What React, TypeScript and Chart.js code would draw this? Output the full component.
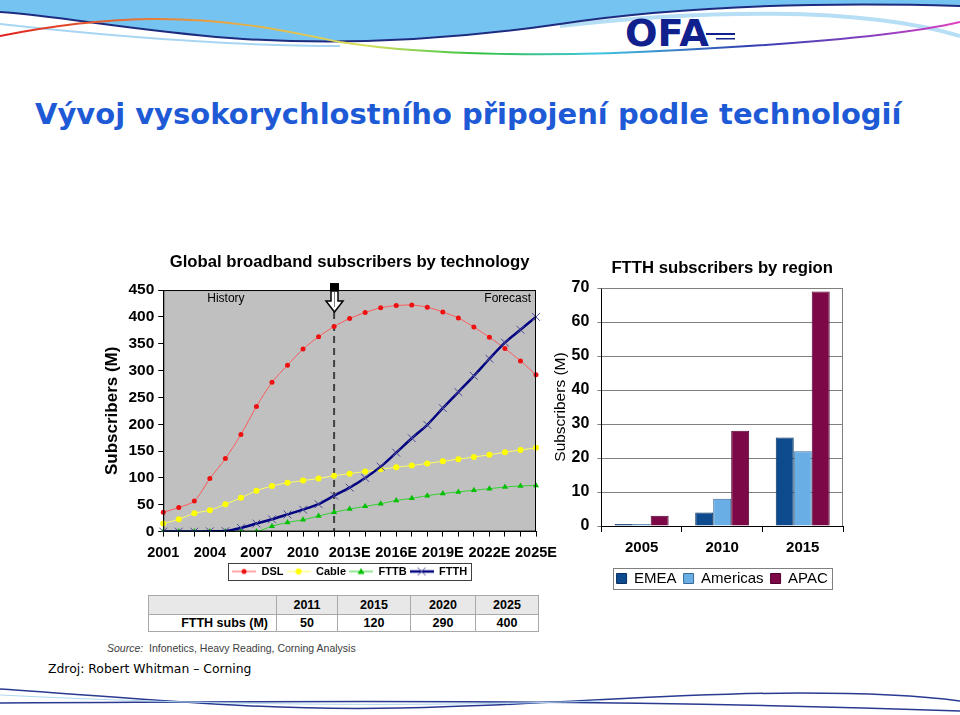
import React, { useEffect, useRef } from 'react';
import { Chart, registerables } from 'chart.js';

Chart.register(...registerables);

// ---------- data ----------
const years = [
  '2001', '2002', '2003', '2004', '2005', '2006', '2007', '2008', '2009', '2010', '2011', '2012',
  '2013E', '2014E', '2015E', '2016E', '2017E', '2018E', '2019E', '2020E', '2021E', '2022E', '2023E', '2024E', '2025E',
];
const dslSubs = [36, 45, 57, 99, 136, 181, 233, 278, 310, 340, 363, 382, 397, 408, 417, 421, 422, 418, 409, 398, 381, 362, 341, 318, 292];
const cableSubs = [15, 23, 34, 40, 51, 63, 76, 85, 91, 95, 99, 104, 108, 112, 116, 120, 123, 127, 131, 135, 139, 143, 148, 152, 156];
const fttbSubs = [0, 0, 0, 0, 0, 0, 0, 10, 17, 22, 29, 36, 42, 47, 52, 58, 62, 67, 71, 74, 77, 80, 83, 85, 86];
const ftthSubs = [0, 0, 0, 0.5, 1, 7, 15, 23, 32, 41, 51, 67, 82, 100, 121, 147, 174, 199, 230, 260, 290, 322, 352, 376, 400];
const historyEndIndex = 11; // 2012

const regionYears = ['2005', '2010', '2015'];
const emeaSubs = [0.6, 4, 26];
const americasSubs = [0.6, 8, 22];
const apacSubs = [3, 28, 69];

const tableYears = ['2011', '2015', '2020', '2025'];
const tableFtth = [50, 120, 290, 400];

// ---------- styles ----------
const ARIAL = '"Liberation Sans", Arial, sans-serif';
const VERDANA = '"DejaVu Sans", Verdana, sans-serif';

function legendIcon(color: string, lineWidth: number, marker: (ctx: CanvasRenderingContext2D, x: number, y: number) => void) {
  const c = document.createElement('canvas');
  c.width = 24;
  c.height = 12;
  const ctx = c.getContext('2d')!;
  ctx.strokeStyle = color;
  ctx.lineWidth = lineWidth;
  ctx.beginPath();
  ctx.moveTo(0, 6);
  ctx.lineTo(24, 6);
  ctx.stroke();
  marker(ctx, 12, 6);
  return c;
}

const leftBg = {
  id: 'leftBg',
  beforeDraw(chart: any) {
    const { ctx, chartArea: a } = chart;
    ctx.save();
    ctx.fillStyle = '#c0c0c0';
    ctx.fillRect(a.left, a.top, a.right - a.left, a.bottom - a.top);
    ctx.restore();
  },
  beforeDatasetsDraw(chart: any) {
    const { ctx, chartArea: a } = chart;
    const x = chart.scales.x.getPixelForValue(historyEndIndex);
    ctx.save();
    ctx.strokeStyle = '#404040';
    ctx.lineWidth = 2;
    ctx.setLineDash([7, 5]);
    ctx.beginPath();
    ctx.moveTo(x, a.top + 22);
    ctx.lineTo(x, a.bottom);
    ctx.stroke();
    ctx.restore();
  },
  afterDatasetsDraw(chart: any) {
    const { ctx, chartArea: a } = chart;
    ctx.save();
    ctx.strokeStyle = '#000';
    ctx.lineWidth = 1;
    ctx.strokeRect(a.left + 0.5, a.top + 0.5, a.right - a.left - 1, a.bottom - a.top - 1);
    ctx.fillStyle = '#000';
    ctx.font = `12px ${ARIAL}`;
    ctx.textBaseline = 'alphabetic';
    ctx.textAlign = 'left';
    ctx.fillText('History', a.left + 44, a.top + 12);
    ctx.textAlign = 'right';
    ctx.fillText('Forecast', a.right - 5, a.top + 12);
    // arrow marking the end of history
    const x = Math.round(chart.scales.x.getPixelForValue(historyEndIndex));
    const t = a.top - 7;
    ctx.fillStyle = '#000';
    ctx.fillRect(x - 4, t, 9, 8);
    ctx.beginPath();
    ctx.moveTo(x - 3, t + 8);
    ctx.lineTo(x + 4, t + 8);
    ctx.lineTo(x + 4, t + 18);
    ctx.lineTo(x + 9, t + 18);
    ctx.lineTo(x + 0.5, t + 29);
    ctx.lineTo(x - 8, t + 18);
    ctx.lineTo(x - 3, t + 18);
    ctx.closePath();
    ctx.fillStyle = '#fff';
    ctx.fill();
    ctx.lineWidth = 1.5;
    ctx.strokeStyle = '#000';
    ctx.stroke();
    ctx.strokeStyle = '#808080';
    ctx.lineWidth = 1;
    ctx.beginPath();
    ctx.moveTo(x + 0.5, t + 9);
    ctx.lineTo(x + 0.5, t + 24);
    ctx.stroke();
    ctx.restore();
  },
};

const legendBox = {
  id: 'legendBox',
  afterDraw(chart: any, _args: any, opts: any) {
    const lg = chart.legend;
    if (!lg || !lg.legendHitBoxes || !lg.legendHitBoxes.length) return;
    const hb = lg.legendHitBoxes;
    let l = Infinity, r = -Infinity, t = Infinity, b = -Infinity;
    hb.forEach((h: any) => {
      l = Math.min(l, h.left);
      r = Math.max(r, h.left + h.width);
      t = Math.min(t, h.top);
      b = Math.max(b, h.top + h.height);
    });
    const px = opts.padX ?? 4;
    const py = opts.padY ?? 3;
    const { ctx } = chart;
    ctx.save();
    ctx.strokeStyle = opts.color || '#000';
    ctx.lineWidth = 1;
    ctx.strokeRect(Math.round(l - px) + 0.5, Math.round(t - py) + 0.5, Math.round(r - l + 2 * px), Math.round(b - t + 2 * py));
    ctx.restore();
  },
};

const rightFrame = {
  id: 'rightFrame',
  afterDraw(chart: any) {
    const { ctx, chartArea: a } = chart;
    ctx.save();
    ctx.strokeStyle = '#808080';
    ctx.lineWidth = 1;
    ctx.beginPath();
    ctx.moveTo(a.left, a.top + 0.5);
    ctx.lineTo(a.right - 0.5, a.top + 0.5);
    ctx.lineTo(a.right - 0.5, a.bottom);
    ctx.stroke();
    ctx.restore();
  },
};

function LeftChart() {
  const ref = useRef<HTMLCanvasElement>(null);
  useEffect(() => {
    const icons = [
      legendIcon('#ff5050', 1, (c, x, y) => { c.fillStyle = '#ee1010'; c.beginPath(); c.arc(x, y, 2.5, 0, Math.PI * 2); c.fill(); }),
      legendIcon('#ffff60', 1, (c, x, y) => { c.fillStyle = '#ffff00'; c.beginPath(); c.arc(x, y, 3, 0, Math.PI * 2); c.fill(); }),
      legendIcon('#30d030', 1, (c, x, y) => { c.fillStyle = '#00c000'; c.beginPath(); c.moveTo(x, y - 3.5); c.lineTo(x + 3.5, y + 2.5); c.lineTo(x - 3.5, y + 2.5); c.closePath(); c.fill(); }),
      legendIcon('#000080', 2.5, (c, x, y) => { c.strokeStyle = '#5050a0'; c.lineWidth = 1; c.beginPath(); c.moveTo(x - 4, y - 4); c.lineTo(x + 4, y + 4); c.moveTo(x + 4, y - 4); c.lineTo(x - 4, y + 4); c.stroke(); }),
    ];
    const names = ['DSL', 'Cable', 'FTTB', 'FTTH'];
    const chart = new Chart(ref.current!, {
      type: 'line',
      data: {
        labels: years,
        datasets: [
          { label: 'DSL', data: dslSubs, borderColor: '#ff5a5a', borderWidth: 1, tension: 0.3, pointStyle: 'circle', pointRadius: 2.5, pointBackgroundColor: '#ee1111', pointBorderColor: '#ee1111', pointBorderWidth: 0, order: 1 },
          { label: 'Cable', data: cableSubs, borderColor: '#ffff60', borderWidth: 1, tension: 0.3, pointStyle: 'circle', pointRadius: 3, pointBackgroundColor: '#ffff00', pointBorderColor: '#ffff00', pointBorderWidth: 0, order: 2 },
          { label: 'FTTB', data: fttbSubs, borderColor: '#30d030', borderWidth: 1, tension: 0.3, pointStyle: 'triangle', pointRadius: 3.5, pointBackgroundColor: '#00c000', pointBorderColor: '#00c000', pointBorderWidth: 0, order: 3 },
          { label: 'FTTH', data: ftthSubs, borderColor: '#000080', borderWidth: 2.5, tension: 0.3, pointStyle: 'crossRot', pointRadius: 5.5, pointBorderColor: '#4a4a98', pointBackgroundColor: '#4a4a98', pointBorderWidth: 1, order: 0 },
        ],
      },
      options: {
        animation: false,
        responsive: false,
        maintainAspectRatio: false,
        layout: { padding: { left: 2, right: 29, top: 0, bottom: 7 } },
        plugins: {
          title: {
            display: true,
            fullSize: false,
            text: 'Global broadband subscribers by technology',
            color: '#000',
            font: { family: ARIAL, size: 16.7, weight: 'bold' },
            padding: { top: 5, bottom: 18 },
          },
          legend: {
            position: 'bottom',
            fullSize: false,
            labels: {
              usePointStyle: true,
              pointStyleWidth: 24,
              boxHeight: 11,
              padding: 3,
              color: '#000',
              font: { family: ARIAL, size: 11, weight: 'bold' },
              generateLabels: () => names.map((n, i) => ({ text: n, pointStyle: icons[i], datasetIndex: i, hidden: false, fontColor: '#000', lineWidth: 0, strokeStyle: 'transparent', fillStyle: 'transparent' } as any)),
            },
          },
          tooltip: { enabled: false },
          legendBox: { padX: 4, padY: 3, color: '#404040' },
        } as any,
        scales: {
          x: {
            offset: false,
            grid: { drawOnChartArea: false, tickLength: 5, color: '#000' },
            border: { color: '#000' },
            afterFit: (scale: any) => { scale.height -= 7; },
            ticks: {
              autoSkip: false,
              maxRotation: 0,
              minRotation: 0,
              padding: 8,
              color: '#000',
              font: { family: ARIAL, size: 14.5, weight: 'bold' },
              callback: (_v: any, i: number) => (i % 3 === 0 ? years[i] : ''),
            },
          },
          y: {
            min: 0,
            max: 450,
            grid: { drawOnChartArea: false, tickLength: 5, color: '#000' },
            border: { color: '#000' },
            ticks: { stepSize: 50, padding: 4, color: '#000', font: { family: ARIAL, size: 15.5, weight: 'bold' } },
            title: { display: true, text: 'Subscribers (M)', color: '#000', font: { family: ARIAL, size: 17, weight: 'bold' }, padding: { top: 0, bottom: 2 } },
          },
        } as any,
      },
      plugins: [leftBg, legendBox],
    });
    return () => chart.destroy();
  }, []);
  return <canvas ref={ref} width={465} height={347} style={{ position: 'absolute', left: 100, top: 247, width: 465, height: 347 }} />;
}

function RightChart() {
  const ref = useRef<HTMLCanvasElement>(null);
  useEffect(() => {
    const chart = new Chart(ref.current!, {
      type: 'bar',
      data: {
        labels: regionYears,
        datasets: [
          { label: 'EMEA', data: emeaSubs, backgroundColor: '#0d4b8e', borderColor: '#08305e', borderWidth: 1, categoryPercentage: 0.67, barPercentage: 1 },
          { label: 'Americas', data: americasSubs, backgroundColor: '#6aaee6', borderColor: '#3a6a9a', borderWidth: 1, categoryPercentage: 0.67, barPercentage: 1 },
          { label: 'APAC', data: apacSubs, backgroundColor: '#7d0848', borderColor: '#50002c', borderWidth: 1, categoryPercentage: 0.67, barPercentage: 1 },
        ],
      },
      options: {
        animation: false,
        responsive: false,
        maintainAspectRatio: false,
        layout: { padding: { left: 0, right: 7, top: 0, bottom: 4 } },
        plugins: {
          title: {
            display: true,
            fullSize: false,
            text: 'FTTH subscribers by region',
            color: '#000',
            font: { family: ARIAL, size: 16.7, weight: 'bold' },
            padding: { top: 8, bottom: 10 },
          },
          legend: {
            position: 'bottom',
            fullSize: false,
            labels: {
              boxWidth: 10,
              boxHeight: 10,
              padding: 7,
              color: '#000',
              font: { family: ARIAL, size: 15 },
            },
          },
          tooltip: { enabled: false },
          legendBox: { padX: 4, padY: 3, color: '#808080' },
        } as any,
        scales: {
          x: {
            grid: { drawOnChartArea: false, tickLength: 6, color: '#000' },
            border: { color: '#000' },
            ticks: { padding: 7, color: '#000', font: { family: ARIAL, size: 15, weight: 'bold' } },
          },
          y: {
            min: 0,
            max: 70,
            grid: { color: '#808080', tickLength: 4 },
            border: { color: '#000' },
            afterFit: (scale: any) => { scale.width -= 6; },
            ticks: { stepSize: 10, padding: 8, color: '#000', font: { family: ARIAL, size: 16, weight: 'bold' } },
            title: { display: true, text: 'Subscribers (M)', color: '#000', font: { family: ARIAL, size: 15.5 }, padding: { top: 1, bottom: 0 } },
          },
        } as any,
      },
      plugins: [rightFrame, legendBox],
    });
    return () => chart.destroy();
  }, []);
  return <canvas ref={ref} width={300} height={350} style={{ position: 'absolute', left: 550, top: 250, width: 300, height: 350 }} />;
}

function Header() {
  return (
    <svg width={960} height={60} style={{ position: 'absolute', left: 0, top: 0 }}>
      <defs>
        <linearGradient id="rainbow" x1="0" x2="1" y1="0" y2="0">
          <stop offset="0" stopColor="#e02020" />
          <stop offset="0.22" stopColor="#e8a040" />
          <stop offset="0.38" stopColor="#d8e060" />
          <stop offset="0.5" stopColor="#30c040" />
          <stop offset="0.62" stopColor="#40c8e0" />
          <stop offset="0.78" stopColor="#3040b0" />
          <stop offset="0.92" stopColor="#9040c0" />
          <stop offset="1" stopColor="#e040c0" />
        </linearGradient>
      </defs>
      <path d="M0,0 H960 V6 C820,2 680,6 560,24 C450,40 340,46 230,38 C130,30 60,16 0,12 Z" fill="#75c3f1" />
      <path d="M560,26 C700,10 860,6 960,36" stroke="#b6def4" strokeWidth={4} fill="none" />
      <path d="M0,24 C90,34 220,46 340,46" stroke="#a8d6f2" strokeWidth={2} fill="none" />
      <path d="M0,12 C60,16 130,30 230,38 C340,46 450,40 560,24 C680,6 820,2 960,6" stroke="#1e2c80" strokeWidth={2} fill="none" />
      <path d="M0,36 C40,28 90,20 150,19 C230,18 290,32 340,42 C430,56 560,57 680,50 C800,44 900,36 960,22" stroke="url(#rainbow)" strokeWidth={2} fill="none" />
      <text x={625} y={46} fontFamily={VERDANA} fontWeight="bold" fontSize={37} fill="#10208c" textLength={84} lengthAdjust="spacingAndGlyphs">OFA</text>
      <rect x={706} y={33} width={29} height={2} fill="#10208c" />
      <rect x={716} y={38} width={19} height={1.5} fill="#10208c" />
    </svg>
  );
}

function Footer() {
  return (
    <svg width={960} height={30} style={{ position: 'absolute', left: 0, top: 685 }}>
      <path d="M0,4 C150,14 260,26 400,23 C560,20 660,8 800,8 C880,8 930,12 960,16" stroke="#2a3a90" strokeWidth={1.5} fill="none" />
      <path d="M0,18 C300,16 620,14 960,26" stroke="#2a3a90" strokeWidth={1.5} fill="none" />
      <path d="M0,10 C200,20 400,22 600,16" stroke="#b0d8f0" strokeWidth={1} fill="none" />
    </svg>
  );
}

function DataTable() {
  const cell: React.CSSProperties = { border: '1px solid #a8a8a8', padding: 0, textAlign: 'center', fontFamily: ARIAL, fontWeight: 'bold', fontSize: 12.5, color: '#000' };
  const colW = [128, 61, 73, 65, 63];
  return (
    <table style={{ position: 'absolute', left: 148, top: 595, borderCollapse: 'collapse', tableLayout: 'fixed', width: 390 }}>
      <colgroup>
        {colW.map((w, i) => <col key={i} style={{ width: w }} />)}
      </colgroup>
      <tbody>
        <tr style={{ height: 19, background: '#e8e8e8' }}>
          <td style={cell}></td>
          {tableYears.map((y) => <td key={y} style={cell}>{y}</td>)}
        </tr>
        <tr style={{ height: 17 }}>
          <td style={{ ...cell, textAlign: 'right', paddingRight: 8 }}>FTTH subs (M)</td>
          {tableFtth.map((v, i) => <td key={i} style={cell}>{v}</td>)}
        </tr>
      </tbody>
    </table>
  );
}

export default function App() {
  return (
    <div style={{ position: 'absolute', left: 0, top: 0, width: 960, height: 715, background: '#fff', overflow: 'hidden' }}>
      <Header />
      <div style={{ position: 'absolute', left: 35, top: 100, fontFamily: VERDANA, fontWeight: 'bold', fontSize: 29, lineHeight: 1, color: '#1e5ad6', whiteSpace: 'nowrap' }}>
        Vývoj vysokorychlostního připojení podle technologií
      </div>
      <LeftChart />
      <RightChart />
      <DataTable />
      <div style={{ position: 'absolute', left: 107, top: 643, fontFamily: ARIAL, fontSize: 10.5, lineHeight: 1, color: '#404040', whiteSpace: 'nowrap' }}>
        <i>Source:</i>&nbsp; Infonetics, Heavy Reading, Corning Analysis
      </div>
      <div style={{ position: 'absolute', left: 48, top: 663, fontFamily: VERDANA, fontSize: 12.4, lineHeight: 1, color: '#000', whiteSpace: 'nowrap' }}>
        Zdroj: Robert Whitman – Corning
      </div>
      <Footer />
    </div>
  );
}
